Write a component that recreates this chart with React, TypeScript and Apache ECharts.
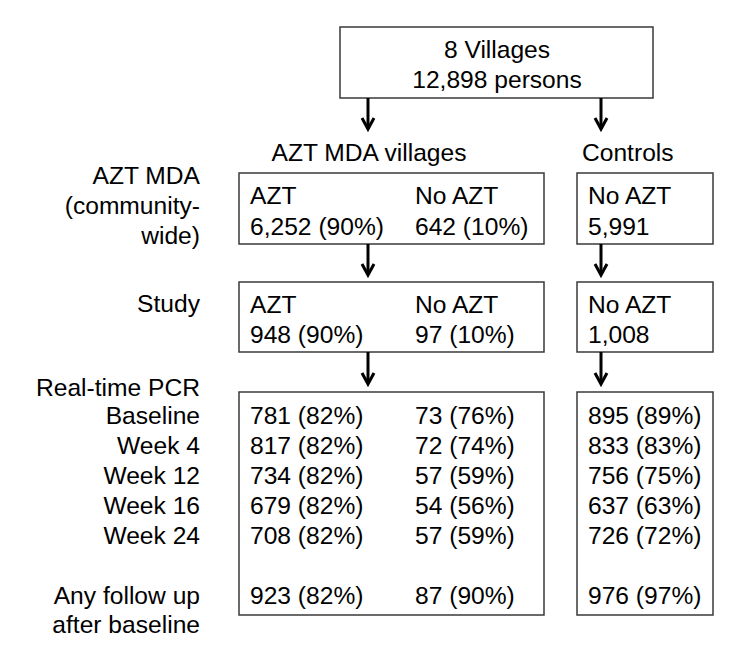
import React, { useEffect, useRef } from "react";
import * as echarts from "echarts";

const topTitle = ["8 Villages", "12,898 persons"];
const groupLabels = ["AZT MDA villages", "Controls"];
const rowLabelsMda = ["AZT MDA", "(community-", "wide)"];
const studyLabel = "Study";
const pcrLabel = "Real-time PCR";
const timepoints = ["Baseline", "Week 4", "Week 12", "Week 16", "Week 24"];
const followLabel = ["Any follow up", "after baseline"];

const mdaHeads = ["AZT", "No AZT", "No AZT"];
const mdaValues = ["6,252 (90%)", "642 (10%)", "5,991"];
const studyHeads = ["AZT", "No AZT", "No AZT"];
const studyValues = ["948 (90%)", "97 (10%)", "1,008"];

const aztN = [781, 817, 734, 679, 708];
const aztPct = [82, 82, 82, 82, 82];
const noAztN = [73, 72, 57, 54, 57];
const noAztPct = [76, 74, 59, 56, 59];
const ctrlN = [895, 833, 756, 637, 726];
const ctrlPct = [89, 83, 75, 63, 72];
const followN = [923, 87, 976];
const followPct = [82, 90, 97];

const FONT = '24.6px "Liberation Sans", Arial, Helvetica, sans-serif';

export default function App() {
  const ref = useRef<HTMLDivElement>(null);
  useEffect(() => {
    if (!ref.current) return;
    const chart = echarts.init(ref.current, null, { renderer: "svg" });
    const els: any[] = [];
    const text = (t: string, x: number, y: number, align = "left") =>
      els.push({
        type: "text",
        x,
        y,
        style: {
          text: t,
          fill: "#000",
          font: FONT,
          textAlign: align,
          textVerticalAlign: "middle",
        },
      });
    const box = (x1: number, y1: number, x2: number, y2: number) =>
      els.push({
        type: "rect",
        shape: { x: x1, y: y1, width: x2 - x1, height: y2 - y1 },
        style: { fill: "#fff", stroke: "#3a3a3a", lineWidth: 1.5 },
      });
    const arrow = (x: number, y1: number, y2: number) => {
      els.push({
        type: "line",
        shape: { x1: x, y1, x2: x, y2: y2 - 1 },
        style: { stroke: "#000", lineWidth: 3 },
      });
      els.push({
        type: "polyline",
        shape: { points: [[x - 6, y2 - 11], [x, y2], [x + 6, y2 - 11]] },
        style: { stroke: "#000", lineWidth: 3, fill: null },
      });
    };

    // Top box
    box(340, 27, 653, 98);
    text(topTitle[0], 497, 49, "center");
    text(topTitle[1], 497, 79, "center");
    arrow(368, 98, 129);
    arrow(601, 98, 129);

    text(groupLabels[0], 369, 152, "center");
    text(groupLabels[1], 582, 152, "left");

    const colX = [250, 415, 588];

    // MDA row
    rowLabelsMda.forEach((l, i) => text(l, 200, 175 + i * 30, "right"));
    box(239, 173, 544, 244);
    box(577, 173, 713, 244);
    mdaHeads.forEach((h, i) => text(h, colX[i], 195, "left"));
    mdaValues.forEach((v, i) => text(v, colX[i], 226, "left"));
    arrow(368, 244, 275);
    arrow(601, 244, 275);

    // Study row
    text(studyLabel, 200, 303, "right");
    box(239, 282, 544, 352);
    box(577, 282, 713, 352);
    studyHeads.forEach((h, i) => text(h, colX[i], 304, "left"));
    studyValues.forEach((v, i) => text(v, colX[i], 334, "left"));
    arrow(368, 352, 384);
    arrow(601, 352, 384);

    // PCR
    text(pcrLabel, 200, 387, "right");
    box(239, 392, 544, 615);
    box(577, 392, 713, 615);
    timepoints.forEach((t, i) => {
      const y = 415 + i * 30;
      text(t, 200, y, "right");
      text(`${aztN[i]} (${aztPct[i]}%)`, colX[0], y, "left");
      text(`${noAztN[i]} (${noAztPct[i]}%)`, colX[1], y, "left");
      text(`${ctrlN[i]} (${ctrlPct[i]}%)`, colX[2], y, "left");
    });
    text(followLabel[0], 200, 595, "right");
    text(followLabel[1], 200, 624, "right");
    followN.forEach((n, i) => text(`${n} (${followPct[i]}%)`, colX[i], 595, "left"));

    chart.setOption({
      animation: false,
      backgroundColor: "#fff",
      graphic: { elements: els },
    });
    return () => chart.dispose();
  }, []);
  return (
    <div
      ref={ref}
      style={{ position: "fixed", left: 0, top: 0, width: 750, height: 656, background: "#fff" }}
    />
  );
}
